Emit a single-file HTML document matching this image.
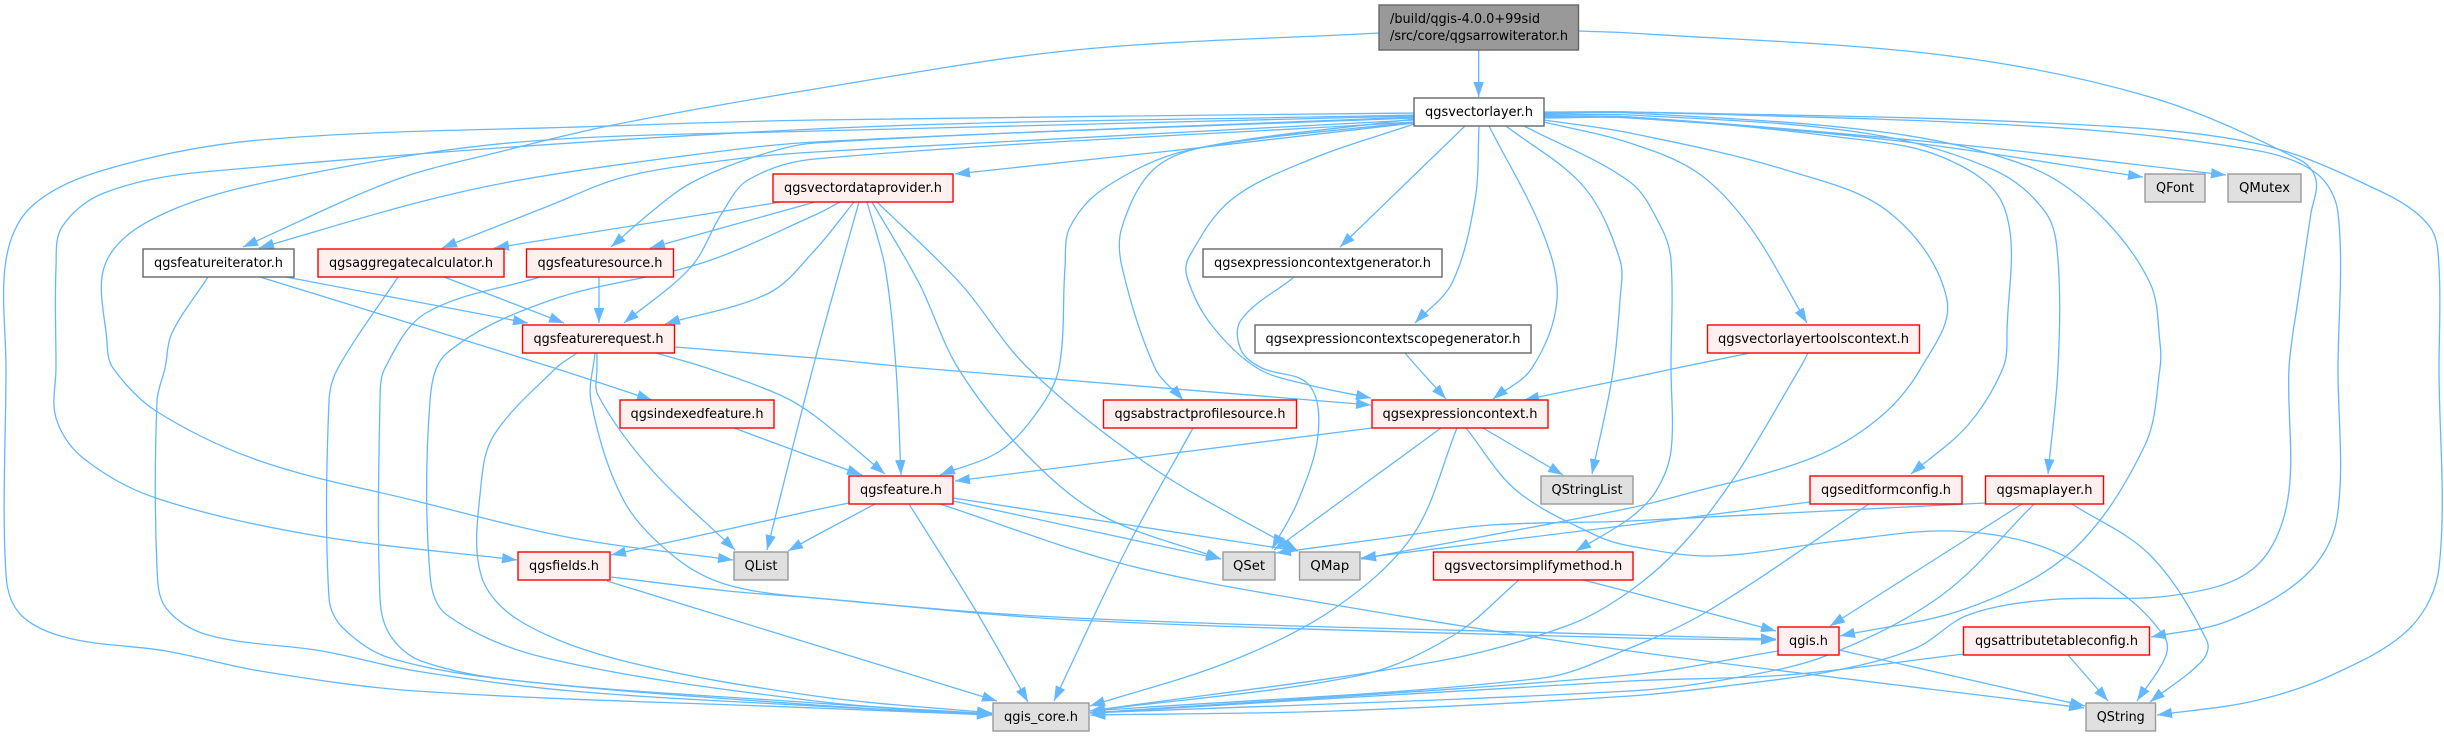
<!DOCTYPE html>
<html><head><meta charset="utf-8"><title>qgsarrowiterator.h include graph</title>
<style>
html,body{margin:0;padding:0;background:#fff;width:2444px;height:736px;overflow:hidden}
svg{display:block}
.e{fill:none;stroke:#63b8ff;stroke-width:1.3}
rect{stroke-width:1.4}
.m{fill:#999;stroke:#666}.w{fill:#fff;stroke:#666}.r{fill:#fff0f0;stroke:#f00}.g{fill:#e0e0e0;stroke:#999}
text{font-family:"DejaVu Sans","Liberation Sans",sans-serif;font-size:13px;fill:#000;text-anchor:middle}
</style></head><body>
<svg id="s" xmlns="http://www.w3.org/2000/svg" width="2444" height="736" viewBox="0 0 2444 736">
<defs><marker id="a" markerUnits="userSpaceOnUse" markerWidth="16" markerHeight="12" refX="15" refY="5.5" orient="auto"><path d="M0,0.3 L15,5.5 L0,10.7Z" fill="#63b8ff"/></marker></defs>
<g id="edges"></g>
<g>
<rect class="m" x="1379" y="5" width="199.5" height="45"/>
<text x="1465" y="23" textLength="150" lengthAdjust="spacingAndGlyphs">/build/qgis-4.0.0+99sid</text>
<text x="1479" y="40" textLength="178" lengthAdjust="spacingAndGlyphs">/src/core/qgsarrowiterator.h</text>
<rect class="w" x="1414" y="98" width="130" height="28"/><text x="1479" y="116" textLength="108" lengthAdjust="spacingAndGlyphs">qgsvectorlayer.h</text>
<rect class="w" x="143" y="249" width="151" height="28"/><text x="218.500" y="267" textLength="129" lengthAdjust="spacingAndGlyphs">qgsfeatureiterator.h</text>
<rect class="r" x="318" y="249" width="186" height="28"/><text x="411" y="267" textLength="164" lengthAdjust="spacingAndGlyphs">qgsaggregatecalculator.h</text>
<rect class="r" x="526.500" y="249" width="147" height="28"/><text x="600" y="267" textLength="125" lengthAdjust="spacingAndGlyphs">qgsfeaturesource.h</text>
<rect class="r" x="522.500" y="325" width="152" height="28"/><text x="598.500" y="343" textLength="130" lengthAdjust="spacingAndGlyphs">qgsfeaturerequest.h</text>
<rect class="r" x="773" y="174" width="180" height="28"/><text x="863" y="192" textLength="158" lengthAdjust="spacingAndGlyphs">qgsvectordataprovider.h</text>
<rect class="w" x="1203" y="249" width="239" height="28"/><text x="1322.500" y="267" textLength="217" lengthAdjust="spacingAndGlyphs">qgsexpressioncontextgenerator.h</text>
<rect class="w" x="1255" y="325" width="276" height="28"/><text x="1393" y="343" textLength="255" lengthAdjust="spacingAndGlyphs">qgsexpressioncontextscopegenerator.h</text>
<rect class="r" x="1707.500" y="325" width="212" height="28"/><text x="1813.500" y="343" textLength="191" lengthAdjust="spacingAndGlyphs">qgsvectorlayertoolscontext.h</text>
<rect class="g" x="2145" y="174" width="60" height="28"/><text x="2175" y="192" textLength="38" lengthAdjust="spacingAndGlyphs">QFont</text>
<rect class="g" x="2228" y="174" width="73" height="28"/><text x="2264.500" y="192" textLength="51" lengthAdjust="spacingAndGlyphs">QMutex</text>
<rect class="r" x="620" y="400" width="154" height="28"/><text x="697" y="418" textLength="133" lengthAdjust="spacingAndGlyphs">qgsindexedfeature.h</text>
<rect class="r" x="518" y="552" width="92" height="28"/><text x="564" y="570" textLength="70" lengthAdjust="spacingAndGlyphs">qgsfields.h</text>
<rect class="g" x="734" y="552" width="54" height="28"/><text x="761" y="570" textLength="33" lengthAdjust="spacingAndGlyphs">QList</text>
<rect class="r" x="1103.500" y="400" width="193" height="28"/><text x="1200" y="418" textLength="171" lengthAdjust="spacingAndGlyphs">qgsabstractprofilesource.h</text>
<rect class="r" x="1372" y="400" width="176" height="28"/><text x="1460" y="418" textLength="155" lengthAdjust="spacingAndGlyphs">qgsexpressioncontext.h</text>
<rect class="r" x="849" y="476" width="104" height="28"/><text x="901" y="494" textLength="82" lengthAdjust="spacingAndGlyphs">qgsfeature.h</text>
<rect class="g" x="1541" y="476" width="92" height="28"/><text x="1587" y="494" textLength="71" lengthAdjust="spacingAndGlyphs">QStringList</text>
<rect class="g" x="1223" y="552" width="52" height="28"/><text x="1249" y="570" textLength="32" lengthAdjust="spacingAndGlyphs">QSet</text>
<rect class="g" x="1299.500" y="552" width="60.500" height="28"/><text x="1329.750" y="570" textLength="39" lengthAdjust="spacingAndGlyphs">QMap</text>
<rect class="r" x="1433.500" y="552" width="199.500" height="28"/><text x="1533.250" y="570" textLength="178" lengthAdjust="spacingAndGlyphs">qgsvectorsimplifymethod.h</text>
<rect class="g" x="993" y="703" width="96" height="28"/><text x="1041" y="721" textLength="74" lengthAdjust="spacingAndGlyphs">qgis_core.h</text>
<rect class="r" x="1810" y="476" width="152" height="28"/><text x="1886" y="494" textLength="130" lengthAdjust="spacingAndGlyphs">qgseditformconfig.h</text>
<rect class="r" x="1985.500" y="476" width="118" height="28"/><text x="2044.500" y="494" textLength="96" lengthAdjust="spacingAndGlyphs">qgsmaplayer.h</text>
<rect class="r" x="1778" y="627" width="61" height="28"/><text x="1808.500" y="645" textLength="39" lengthAdjust="spacingAndGlyphs">qgis.h</text>
<rect class="r" x="1963.500" y="627" width="186" height="28"/><text x="2056.500" y="645" textLength="163" lengthAdjust="spacingAndGlyphs">qgsattributetableconfig.h</text>
<rect class="g" x="2086" y="703" width="69.500" height="28"/><text x="2120.750" y="721" textLength="48" lengthAdjust="spacingAndGlyphs">QString</text>
</g>
</svg>
<script>
var E=[
[1379,33,1075,50,815,89,613,125,499,152,395,180,243,247],
[1478.7,50,1478.7,97],
[1579,31,1630,33,1942,55,2150,97,2300,160,2316,180,2311,213,2298,300,2289,368,2287.5,501,2254,568,2176,595,2046,600,1968,615,1916,648,1838,670,1734,685,1630,696,1335,711,1090.5,715],
[1414,113,815,120,608,126,260,140,104,170,31,207,6,260,6,368,6,575,21,615,68,638,166,651,260,671,416,691,815,708,992,715],
[1414,115,815,129,203,172,104,193,62,227,56,267,56,368,56,418,83,458,156,498,312,535,517,560],
[1414,116,815,131,520,142,312,173,172,210,107,260,107,343,113,368,156,411,260,461,416,501,572,538,733,560],
[1414,118,815,142,676,157,520,180,416,203,259,248],
[1414,120,815,152,728,160,624,177,546,207,442,248],
[1414,117,815,143,754,157,691,183,650,213,611,247],
[1414,122,815,159,748,180,722,213,691,267,624,323],
[1414,123,1179,150,955,174],
[1414,119,1189,150,1106,187,1070,227,1065,267,1059,368,1038,411,1000,451,940,475],
[1414,122,1205,147,1153,170,1122,227,1122,267,1155,368,1183,400],
[1414,124,1309,160,1231,200,1189,257,1187,277,1210,323,1257,368,1309,385,1371,398],
[1293,278,1241,320,1241,350,1262,368,1309,385,1318,435,1298,501,1272,549],
[1465,126,1340,247],
[1479,126,1475,200,1452,283,1415,323],
[1405,353,1418,368,1446,399],
[1489,126,1543,233,1557,300,1532,368,1493,399],
[1506,126,1584,187,1620,260,1620,300,1612,378,1592,474],
[1524,126,1630,182,1661,227,1671,260,1671,368,1671,451,1656,491,1630,518,1576,551],
[1544,120,1630,133,1786,170,1890,213,1947,300,1921,368,1879,418,1812,458,1682,495,1630,508,1491,535,1361,559],
[1544,122,1630,143,1698,173,1750,227,1807,323],
[1544,117,1630,117,1838,137,1942,157,2004,207,2007,333,2003,368,1968,425,1911,474],
[1544,115,1630,115,1864,133,1994,170,2046,213,2058,260,2058,368,2048,474],
[1544,114,1630,113,1890,133,2030,167,2098,213,2150,283,2160,343,2160,368,2145,445,2072,551,1968,608,1840,636],
[1544,118,1630,118,1890,140,2143,177],
[1544,116,1630,117,1942,143,2226,175],
[1544,113,1630,112,2046,127,2254,150,2316,173,2338,213,2338,368,2337,518,2306,575,2228,621,2151,637],
[1544,112,1630,112,2046,123,2254,143,2384,193,2430,227,2439,267,2439,368,2439,568,2410,628,2332,675,2254,701,2157,715],
[208,277,172,333,165,368,157,401,157,568,166,608,208,635,322,651,416,671,572,691,815,706,992,715],
[398,277,338,368,329,401,329,598,343,628,390,658,520,681,815,705,992,715],
[540,277,426,313,385,368,380,401,380,598,390,635,421,661,520,681,815,703,992,715],
[840,202,815,215,702,263,551,300,447,353,430,401,430,575,447,615,546,658,815,701,992,714],
[577,353,556,368,494,435,481,485,481,575,520,621,624,661,815,696,992,713],
[781,202,494,248],
[815,202,650,248],
[854,202,815,250,769,293,665,324],
[859,202,815,360,767,550],
[867,202,885,267,896,368,901,475],
[872,202,919,283,958,368,1023,451,1101,515,1221,559],
[877,202,960,283,1028,368,1153,468,1298,551],
[675,347,815,358,919,368,1371,405],
[656,353,707,368,780,395,815,416,885,474],
[597,353,597,368,598,395,650,468,735,550],
[595,353,591,401,624,501,676,558,728,585,815,598,1075,618,1630,635,1776,639],
[286,277,528,323],
[260,277,551,367,652,400],
[444,277,564,323],
[599,277,599,323],
[734,428,815,458,862,475],
[849,503,815,510,611,555],
[875,504,815,536,788,551],
[909,504,976,611,1028,702],
[953,501,1221,559],
[953,498,1298,551],
[940,504,1127,565,1335,605,1630,651,2084,708],
[611,577,728,591,815,598,1075,620,1630,638,1776,640],
[607,581,815,645,997,701],
[1193,428,1127,548,1054,701],
[1372,428,955,481],
[1441,428,1274,550],
[1457,428,1413,535,1335,608,1231,661,1090,706],
[1466,428,1517,491,1595,535,1630,546,1713,556,1838,541,1952,531,2046,548,2124,595,2165,638,2165,658,2137,701],
[1483,428,1563,475],
[1750,353,1677,368,1630,378,1524,400],
[1808,353,1800,368,1734,478,1682,545,1630,591,1569,625,1439,661,1090,711],
[1583,580,1630,592,1776,631],
[1519,580,1454,635,1361,675,1090,711],
[1869,504,1708,611,1630,648,1543,678,1090,711],
[1810,502,1630,525,1361,558],
[2022,504,1830,626],
[2034,504,1942,595,1828,655,1734,678,1630,691,1090,713],
[1985,503,1630,521,1491,525,1387,538,1276,553],
[2072,504,2150,555,2207,641,2202,661,2150,702],
[1839,650,2085,706],
[1778,651,1630,675,1090,713],
[1964,654,1786,675,1630,681,1090,713],
[2068,655,2108,701]
];
var g=document.getElementById('edges');
function f(n){return n.toFixed(1)}
E.forEach(function(a){
 var P=[];for(var i=0;i<a.length;i+=2)P.push([a[i],a[i+1]]);
 var n=P.length,T=[];
 for(i=0;i<n;i++){
  var A=P[Math.max(i-1,0)],B=P[Math.min(i+1,n-1)];
  var dx=B[0]-A[0],dy=B[1]-A[1],L=Math.hypot(dx,dy)||1;
  T.push([dx/L,dy/L]);
 }
 var d='M'+f(P[0][0])+','+f(P[0][1]);
 for(i=0;i<n-1;i++){
  var s=Math.hypot(P[i+1][0]-P[i][0],P[i+1][1]-P[i][1])/3;
  d+=' C'+f(P[i][0]+T[i][0]*s)+','+f(P[i][1]+T[i][1]*s)+' '+f(P[i+1][0]-T[i+1][0]*s)+','+f(P[i+1][1]-T[i+1][1]*s)+' '+f(P[i+1][0])+','+f(P[i+1][1]);
 }
 var p=document.createElementNS('http://www.w3.org/2000/svg','path');
 p.setAttribute('d',d);p.setAttribute('class','e');p.setAttribute('marker-end','url(#a)');
 g.appendChild(p);
});
</script>
</body></html>
